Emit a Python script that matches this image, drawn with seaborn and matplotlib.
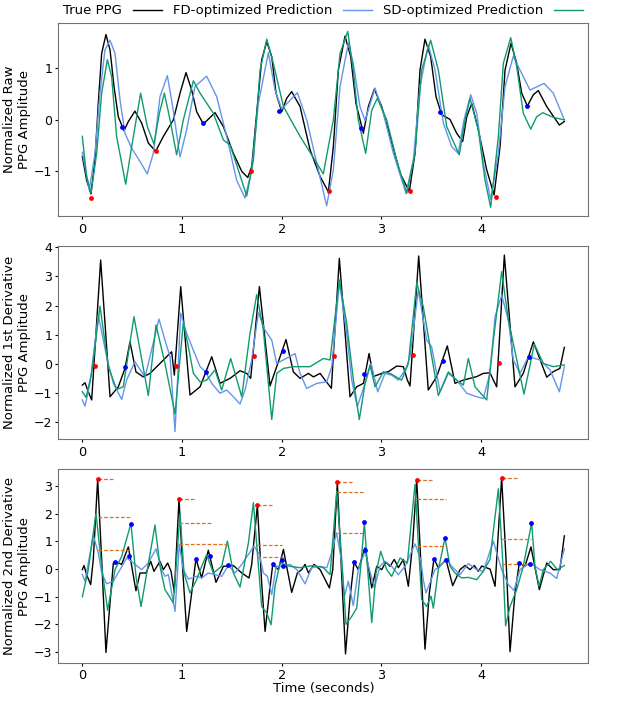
import pandas as pd
import seaborn as sns
import matplotlib.pyplot as plt

# (time, value) pairs, one list per curve
raw_true = [(0.0, -0.71), (0.043, -1.17), (0.087, -1.44), (0.127, -0.78), (0.16, 0.32), (0.194, 1.29),
            (0.237, 1.66), (0.278, 1.36), (0.318, 0.65), (0.361, 0.06), (0.418, -0.21), (0.462, -0.03),
            (0.528, 0.17), (0.595, -0.06), (0.662, -0.45), (0.736, -0.61), (0.813, -0.32), (0.913, 0.0),
            (0.98, 0.52), (1.04, 0.92), (1.097, 0.58), (1.147, 0.16), (1.214, -0.08), (1.331, 0.14),
            (1.415, -0.13), (1.515, -0.65), (1.599, -1.0), (1.659, -1.12), (1.699, -0.91), (1.749, 0.13),
            (1.799, 1.17), (1.85, 1.52), (1.9, 1.23), (1.943, 0.52), (2.0, 0.16), (2.05, 0.42),
            (2.1, 0.55), (2.184, 0.26), (2.284, -0.58), (2.385, -1.1), (2.468, -1.40), (2.518, -0.52),
            (2.568, 0.97), (2.635, 1.63), (2.692, 1.23), (2.745, 0.32), (2.819, -0.26), (2.869, 0.26),
            (2.929, 0.60), (3.003, 0.26), (3.086, -0.32), (3.187, -1.04), (3.28, -1.39), (3.337, -0.65),
            (3.387, 0.97), (3.437, 1.57), (3.494, 1.23), (3.548, 0.45), (3.605, 0.10), (3.688, 0.01),
            (3.755, -0.26), (3.815, -0.42), (3.856, 0.06), (3.906, 0.32), (3.972, -0.19), (4.056, -0.97),
            (4.13, -1.46), (4.19, -0.52), (4.24, 0.97), (4.30, 1.49), (4.357, 1.10), (4.407, 0.52),
            (4.464, 0.27), (4.524, 0.49), (4.574, 0.57), (4.658, 0.26), (4.785, -0.10), (4.835, -0.03)]
raw_fd = [(0.0, -0.63), (0.07, -1.36), (0.127, -0.65), (0.177, 0.52), (0.227, 1.36), (0.278, 1.55),
          (0.328, 1.29), (0.378, 0.39), (0.428, -0.26), (0.495, -0.55), (0.579, -0.81), (0.652, -1.05),
          (0.712, -0.65), (0.779, 0.45), (0.853, 0.86), (0.906, 0.26), (0.98, -0.72), (1.047, -0.19),
          (1.13, 0.65), (1.247, 0.85), (1.348, 0.45), (1.448, -0.32), (1.548, -1.17), (1.632, -1.52),
          (1.699, -0.97), (1.766, 0.32), (1.866, 1.31), (1.933, 0.58), (2.0, 0.21), (2.157, 0.53),
          (2.251, 0.0), (2.351, -0.84), (2.451, -1.67), (2.518, -0.97), (2.585, 0.65), (2.668, 1.49),
          (2.718, 1.10), (2.785, 0.26), (2.836, -0.01), (2.936, 0.62), (3.019, 0.13), (3.12, -0.65),
          (3.247, -1.43), (3.32, -0.78), (3.387, 0.65), (3.47, 1.46), (3.538, 0.97), (3.621, -0.06),
          (3.705, -0.52), (3.771, -0.65), (3.828, 0.0), (3.896, 0.49), (3.956, 0.13), (4.022, -0.84),
          (4.096, -1.55), (4.173, -0.65), (4.24, 0.65), (4.323, 1.24), (4.39, 0.97), (4.49, 0.58),
          (4.631, 0.71), (4.724, 0.52), (4.835, 0.0)]
raw_sd = [(0.0, -0.32), (0.043, -1.10), (0.087, -1.42), (0.144, -0.65), (0.194, 0.52), (0.251, 1.17),
          (0.294, 0.84), (0.344, -0.32), (0.435, -1.25), (0.495, -0.52), (0.585, 0.52), (0.652, -0.13),
          (0.719, -0.47), (0.773, 0.13), (0.823, 0.52), (0.88, 0.0), (0.946, -0.68), (1.013, 0.0),
          (1.114, 0.76), (1.181, 0.52), (1.314, 0.13), (1.415, -0.39), (1.482, -0.49), (1.532, -0.78),
          (1.649, -1.48), (1.716, -0.78), (1.783, 0.97), (1.85, 1.57), (1.916, 1.10), (2.017, 0.26),
          (2.184, -0.32), (2.351, -0.84), (2.417, -1.05), (2.518, 0.0), (2.585, 1.29), (2.662, 1.72),
          (2.718, 0.97), (2.768, 0.0), (2.842, -0.65), (2.903, 0.19), (2.959, 0.42), (3.053, 0.0),
          (3.153, -0.78), (3.254, -1.43), (3.337, -0.65), (3.404, 0.97), (3.494, 1.55), (3.571, 0.97),
          (3.655, -0.13), (3.781, -0.68), (3.839, 0.0), (3.889, 0.42), (3.972, -0.19), (4.039, -1.17),
          (4.096, -1.70), (4.173, -0.32), (4.223, 1.10), (4.297, 1.60), (4.357, 1.04), (4.423, 0.13),
          (4.498, -0.18), (4.557, 0.06), (4.618, 0.14), (4.724, 0.05), (4.835, 0.0)]
raw_red = [(0.087, -1.51), (0.736, -0.60), (1.69, -1.0), (2.477, -1.38), (3.287, -1.38), (4.146, -1.49)]
raw_blue = [(0.395, -0.14), (1.207, -0.06), (1.977, 0.18), (2.792, -0.15), (3.588, 0.16), (4.457, 0.27)]

d1_true = [(0.0, -0.72), (0.027, -0.64), (0.06, -0.95), (0.094, -1.23), (0.184, 3.56), (0.278, -1.12),
           (0.361, -0.78), (0.428, -0.15), (0.478, 0.76), (0.538, -0.27), (0.612, -0.44), (0.679, -0.32),
           (0.779, 0.02), (0.863, 0.31), (0.896, 0.42), (0.923, -0.38), (0.987, 2.65), (1.08, -1.06),
           (1.181, -0.78), (1.298, 0.25), (1.381, -0.66), (1.482, -0.49), (1.582, -0.23), (1.649, -0.32),
           (1.689, -0.49), (1.776, 2.65), (1.883, -0.75), (2.043, 0.84), (2.117, -0.27), (2.184, -0.49),
           (2.268, -0.32), (2.318, -0.44), (2.385, -0.32), (2.435, -0.55), (2.498, -0.83), (2.578, 3.62),
           (2.685, -1.12), (2.752, -0.78), (2.82, -0.66), (2.876, 0.36), (2.919, -0.43), (3.003, -0.32),
           (3.07, -0.26), (3.153, -0.07), (3.22, -0.09), (3.26, -0.55), (3.287, -0.75), (3.374, 3.70),
           (3.47, -0.89), (3.555, -0.43), (3.661, 0.62), (3.738, -0.66), (3.822, -0.55), (3.956, -0.43),
           (4.022, -0.32), (4.089, -0.30), (4.123, -0.55), (4.156, -0.78), (4.233, 3.73), (4.34, -0.78),
           (4.423, -0.32), (4.524, 0.76), (4.658, -0.45), (4.724, -0.26), (4.79, -0.15), (4.835, 0.57)]
d1_fd = [(0.0, -1.23), (0.027, -1.44), (0.077, -0.66), (0.16, 1.68), (0.244, 0.25), (0.311, -0.66),
         (0.395, -1.21), (0.445, -0.54), (0.528, 0.08), (0.629, -0.45), (0.769, 1.54), (0.829, 0.82),
         (0.88, 0.25), (0.93, -2.31), (0.987, 1.74), (1.047, 1.05), (1.114, 0.47), (1.181, -0.09),
         (1.237, -0.27), (1.298, -0.66), (1.381, -1.0), (1.448, -0.89), (1.515, -1.12), (1.582, -1.37),
         (1.632, -0.89), (1.699, 0.14), (1.766, 1.76), (1.833, 1.16), (1.9, 0.82), (1.95, 0.02),
         (2.0, 0.11), (2.134, 0.36), (2.184, -0.32), (2.251, -0.84), (2.351, -0.66), (2.452, -0.61),
         (2.502, -0.09), (2.579, 2.80), (2.652, 1.05), (2.702, -0.55), (2.758, -1.46), (2.836, -0.66),
         (2.896, 0.02), (2.963, -0.95), (3.036, -0.32), (3.103, -0.38), (3.17, -0.55), (3.247, -0.15),
         (3.287, 0.25), (3.37, 2.53), (3.454, 0.82), (3.504, 0.59), (3.588, -0.95), (3.671, -0.32),
         (3.755, -0.55), (3.856, -1.0), (3.956, -1.12), (4.022, -1.18), (4.089, -0.32), (4.14, 1.62),
         (4.206, 2.36), (4.273, 1.51), (4.323, 0.14), (4.39, -0.32), (4.474, 0.25), (4.591, 0.14),
         (4.691, -0.2), (4.785, -0.95), (4.835, -0.09)]
d1_sd = [(0.0, -0.95), (0.037, -1.14), (0.094, -0.32), (0.177, 1.98), (0.261, -0.09), (0.344, -0.87),
         (0.411, -0.78), (0.518, 1.62), (0.662, -1.08), (0.739, 1.34), (0.829, 0.02), (0.93, -1.71),
         (1.013, 1.42), (1.064, 0.59), (1.114, -0.32), (1.181, -0.61), (1.247, -0.55), (1.331, -0.2),
         (1.398, -0.89), (1.488, 0.19), (1.599, -1.12), (1.682, 1.05), (1.749, 2.38), (1.816, 1.16),
         (1.9, -1.9), (1.95, -0.32), (2.017, -0.15), (2.117, -0.09), (2.284, -0.09), (2.418, 0.19),
         (2.485, 0.14), (2.578, 2.88), (2.652, 1.39), (2.719, -0.55), (2.778, -1.9), (2.836, -0.66),
         (2.886, -0.03), (2.936, -0.78), (3.019, -0.27), (3.087, -0.32), (3.203, -0.55), (3.27, 0.02),
         (3.354, 2.78), (3.42, 1.96), (3.488, 0.59), (3.571, -1.08), (3.671, -0.27), (3.755, -0.55),
         (3.822, -0.72), (3.872, 0.19), (3.939, -0.78), (4.056, -1.23), (4.123, 0.82), (4.206, 3.16),
         (4.273, 1.51), (4.43, -1.03), (4.534, 0.68), (4.624, 0.02), (4.724, -0.09), (4.835, -0.03)]
d1_red = [(0.127, -0.07), (0.936, -0.05), (1.722, 0.27), (2.525, 0.27), (3.32, 0.30), (4.18, 0.02)]
d1_blue = [(0.428, -0.09), (1.237, -0.27), (2.01, 0.45), (2.826, -0.33), (3.621, 0.10), (4.484, 0.25)]

d2_true = [(0.0, -0.02), (0.017, 0.13), (0.043, -0.2), (0.084, -0.56), (0.11, 0.35), (0.154, 3.24),
           (0.194, 0.35), (0.237, -3.01), (0.278, -1.22), (0.311, 0.22), (0.345, 0.25), (0.395, 0.17),
           (0.445, 0.65), (0.462, 0.8), (0.538, -0.78), (0.579, -0.14), (0.639, -0.14), (0.686, 0.28),
           (0.719, -0.08), (0.779, 0.28), (0.813, -0.02), (0.856, 0.22), (0.89, -0.08), (0.923, -0.84),
           (0.97, 2.54), (1.007, -0.02), (1.047, -2.25), (1.097, -0.86), (1.14, 0.37), (1.197, -0.32),
           (1.264, 0.68), (1.341, -0.48), (1.415, 0.1), (1.515, 0.13), (1.599, -0.14), (1.672, -0.32),
           (1.699, 0.17), (1.756, 2.31), (1.799, -0.5), (1.833, -2.25), (1.876, -0.86), (1.91, 0.17),
           (1.967, -0.02), (2.017, 0.71), (2.1, -0.84), (2.157, -0.14), (2.2, -0.02), (2.234, 0.17),
           (2.268, -0.14), (2.324, 0.17), (2.385, -0.02), (2.478, -0.68), (2.512, -0.02), (2.558, 3.14),
           (2.602, -0.26), (2.64, -3.06), (2.686, -1.0), (2.726, 0.25), (2.768, -0.02), (2.836, 0.77),
           (2.903, -0.68), (2.953, 0.1), (3.003, -0.02), (3.043, 0.25), (3.087, 0.1), (3.129, 0.35),
           (3.17, 0.05), (3.22, 0.35), (3.27, -0.62), (3.314, 0.95), (3.354, 3.22), (3.394, 0.35),
           (3.437, -2.89), (3.481, -0.86), (3.527, 0.37), (3.571, 0.05), (3.648, 0.34), (3.715, -0.6),
           (3.788, -0.02), (3.839, 0.13), (3.889, -0.02), (3.932, 0.13), (3.972, -0.08), (4.006, 0.11),
           (4.09, 0.0), (4.14, -0.62), (4.206, 3.3), (4.25, 0.35), (4.29, -2.98), (4.34, -0.86),
           (4.383, 0.22), (4.44, 0.1), (4.5, 0.8), (4.584, -0.74), (4.658, 0.22), (4.724, -0.02),
           (4.79, -0.02), (4.835, 1.2)]
d2_fd = [(0.0, -0.2), (0.027, -0.44), (0.11, 1.21), (0.161, 0.58), (0.194, -0.14), (0.244, -0.53),
         (0.311, -0.44), (0.378, -0.02), (0.445, 0.4), (0.512, 0.22), (0.595, -0.02), (0.662, 0.22),
         (0.739, 0.73), (0.796, -0.02), (0.829, -0.26), (0.863, -0.2), (0.93, -1.53), (0.973, 0.91),
         (1.013, -0.02), (1.064, -0.36), (1.147, -0.26), (1.197, -0.32), (1.264, -0.14), (1.331, -0.2),
         (1.398, -0.26), (1.465, 0.13), (1.532, -0.14), (1.599, 0.17), (1.722, 0.83), (1.776, 0.53),
         (1.816, -0.14), (1.856, -0.26), (1.9, -0.92), (1.943, 0.1), (2.01, 0.1), (2.084, 0.17),
         (2.151, -0.02), (2.234, -0.53), (2.301, 0.05), (2.385, 0.1), (2.452, 0.05), (2.502, 0.6),
         (2.55, 1.31), (2.597, 0.35), (2.628, -1.0), (2.668, -0.44), (2.718, -1.32), (2.768, -0.02),
         (2.836, 0.64), (2.88, -0.02), (2.93, -0.68), (2.986, 0.11), (3.036, 0.28), (3.103, 0.1),
         (3.17, -0.2), (3.237, 0.1), (3.337, 0.91), (3.394, 0.35), (3.42, -0.38), (3.447, -0.86),
         (3.487, -0.5), (3.537, -0.02), (3.587, 0.1), (3.648, 0.37), (3.705, 0.1), (3.788, -0.2),
         (3.872, 0.2), (3.956, -0.02), (4.022, -0.08), (4.123, 1.01), (4.206, -0.02), (4.273, -0.56),
         (4.33, -0.77), (4.39, -0.02), (4.49, 0.22), (4.59, -0.02), (4.69, -0.14), (4.758, -0.34),
         (4.835, 0.73)]
d2_sd = [(0.0, -1.0), (0.06, -0.02), (0.137, 2.01), (0.194, 0.1), (0.254, -1.49), (0.328, -0.02),
         (0.395, 0.46), (0.488, 1.65), (0.538, -0.26), (0.589, -1.35), (0.729, 1.59), (0.779, 0.1),
         (0.829, -0.74), (0.913, -1.22), (0.98, 2.01), (1.02, -0.14), (1.08, -0.86), (1.147, -0.38),
         (1.197, 0.1), (1.247, 0.52), (1.314, -0.14), (1.398, 0.1), (1.455, 1.01), (1.515, -0.14),
         (1.582, -0.65), (1.666, 0.95), (1.716, 2.4), (1.756, 0.58), (1.799, -1.35), (1.85, -1.59),
         (1.893, -2.01), (1.933, -0.62), (1.983, 0.22), (2.084, 0.1), (2.184, 0.05), (2.318, 0.13),
         (2.418, 0.05), (2.485, -0.2), (2.552, 2.82), (2.602, 0.35), (2.645, -1.99), (2.702, -1.71),
         (2.752, -1.41), (2.793, 0.1), (2.829, 1.67), (2.862, -0.02), (2.903, -1.93), (2.946, -0.14),
         (2.993, 0.64), (3.053, -0.02), (3.103, -0.26), (3.187, 0.4), (3.26, 0.22), (3.337, 3.06),
         (3.37, 0.94), (3.404, -1.1), (3.454, -1.35), (3.498, -0.98), (3.521, -1.41), (3.571, -0.02),
         (3.638, 1.13), (3.688, 0.1), (3.738, -0.14), (3.805, -0.32), (3.872, -0.3), (3.956, -0.38),
         (4.022, -0.08), (4.089, 0.35), (4.173, 2.9), (4.216, 0.35), (4.246, -2.05), (4.29, -1.35),
         (4.357, -0.74), (4.423, 0.1), (4.507, 1.67), (4.54, 0.1), (4.581, -0.62), (4.624, -0.02),
         (4.698, 0.28), (4.764, -0.02), (4.835, 0.13)]
d2_red = [(0.154, 3.24), (0.973, 2.54), (1.756, 2.31), (2.558, 3.14), (3.354, 3.22), (4.206, 3.30)]
d2_blue = [(0.328, 0.25), (0.465, 0.49), (0.488, 1.64), (1.14, 0.38), (1.281, 0.49), (1.458, 0.13),
           (1.91, 0.18), (2.0, 0.34), (2.01, 0.10), (2.726, 0.25), (2.829, 1.69), (2.836, 0.68),
           (3.527, 0.38), (3.638, 1.13), (3.648, 0.34), (4.383, 0.22), (4.49, 0.20), (4.50, 1.65)]
# orange dashed guides: (level, start time, end time)
d2_guides = [(3.24, 0.154, 0.318), (1.89, 0.154, 0.488), (0.68, 0.154, 0.468),
             (2.54, 0.973, 1.14), (1.67, 0.973, 1.288), (0.91, 0.973, 1.455),
             (2.31, 1.756, 1.916), (0.86, 1.756, 2.0), (0.43, 1.756, 2.01),
             (3.14, 2.558, 2.719), (2.80, 2.558, 2.836), (1.29, 2.558, 2.836),
             (3.22, 3.354, 3.514), (2.54, 3.354, 3.648), (0.83, 3.354, 3.648),
             (3.30, 4.206, 4.383), (1.07, 4.206, 4.497), (0.19, 4.206, 4.497)]

series_names = ['True PPG', 'FD-optimized Prediction', 'SD-optimized Prediction']
palette = {'True PPG': 'black', 'FD-optimized Prediction': 'cornflowerblue',
           'SD-optimized Prediction': '#0f9a70'}
ylabels = ['Normalized Raw\nPPG Amplitude', 'Normalized 1st Derivative\nPPG Amplitude',
           'Normalized 2nd Derivative\nPPG Amplitude']
ylims = [(-1.87, 1.89), (-2.58, 4.04), (-3.38, 3.6)]

plt.rcParams['font.size'] = 9.5
plt.rcParams['axes.edgecolor'] = '0.45'
plt.rcParams['xtick.major.size'] = 2.4
plt.rcParams['ytick.major.size'] = 2.4
plt.rcParams['xtick.major.pad'] = 2.4
plt.rcParams['ytick.major.pad'] = 2.0
plt.rcParams['xtick.labelsize'] = 9.3
plt.rcParams['ytick.labelsize'] = 9.0

panels = [(raw_true, raw_fd, raw_sd, raw_red, raw_blue),
          (d1_true, d1_fd, d1_sd, d1_red, d1_blue),
          (d2_true, d2_fd, d2_sd, d2_red, d2_blue)]


def to_frame(curves):
    rows = []
    for name, pts in zip(series_names, curves):
        for t, v in pts:
            rows.append({'Time': t, 'Amplitude': v, 'Series': name})
    return pd.DataFrame(rows)


fig, axes = plt.subplots(3, 1, figsize=(6.23, 7.01), dpi=100)
fig.subplots_adjust(left=0.0934, right=0.9446, top=0.9676, bottom=0.0546, hspace=0.155)

for i, (ax, (tr, fd, sd, red, blue)) in enumerate(zip(axes, panels)):
    df = to_frame([tr, fd, sd])
    sns.lineplot(data=df, x='Time', y='Amplitude', hue='Series', hue_order=series_names,
                 palette=palette, estimator=None, sort=False, linewidth=1.0, ax=ax, legend=(i == 0))
    if i == 2:
        for level, t0, t1 in d2_guides:
            ax.hlines(level, t0, t1, colors='#e0701e', linestyles=(0, (3, 1.5)), linewidth=0.9, zorder=4)
    red_df = pd.DataFrame(red, columns=['Time', 'Amplitude'])
    blue_df = pd.DataFrame(blue, columns=['Time', 'Amplitude'])
    sns.scatterplot(data=red_df, x='Time', y='Amplitude', color='red', s=12, linewidth=0, ax=ax, zorder=5)
    sns.scatterplot(data=blue_df, x='Time', y='Amplitude', color='blue', s=12, linewidth=0, ax=ax, zorder=5)
    ax.set_xlim(-0.242, 5.077)
    ax.set_ylim(*ylims[i])
    ax.set_xticks([0, 1, 2, 3, 4])
    ax.set_ylabel(ylabels[i])
    ax.yaxis.set_label_coords(-0.052, 0.5)
    ax.set_xlabel('')

handles, labels = axes[0].get_legend_handles_labels()
axes[0].get_legend().remove()
axes[0].legend(handles, labels, loc='lower left', bbox_to_anchor=(0, 1.0, 1, 0.1), mode='expand',
               ncol=3, markerfirst=False, frameon=False, borderaxespad=0.0, handlelength=2.2)
axes[2].set_xlabel('Time (seconds)', labelpad=0)

plt.savefig('out.png', dpi=100)
